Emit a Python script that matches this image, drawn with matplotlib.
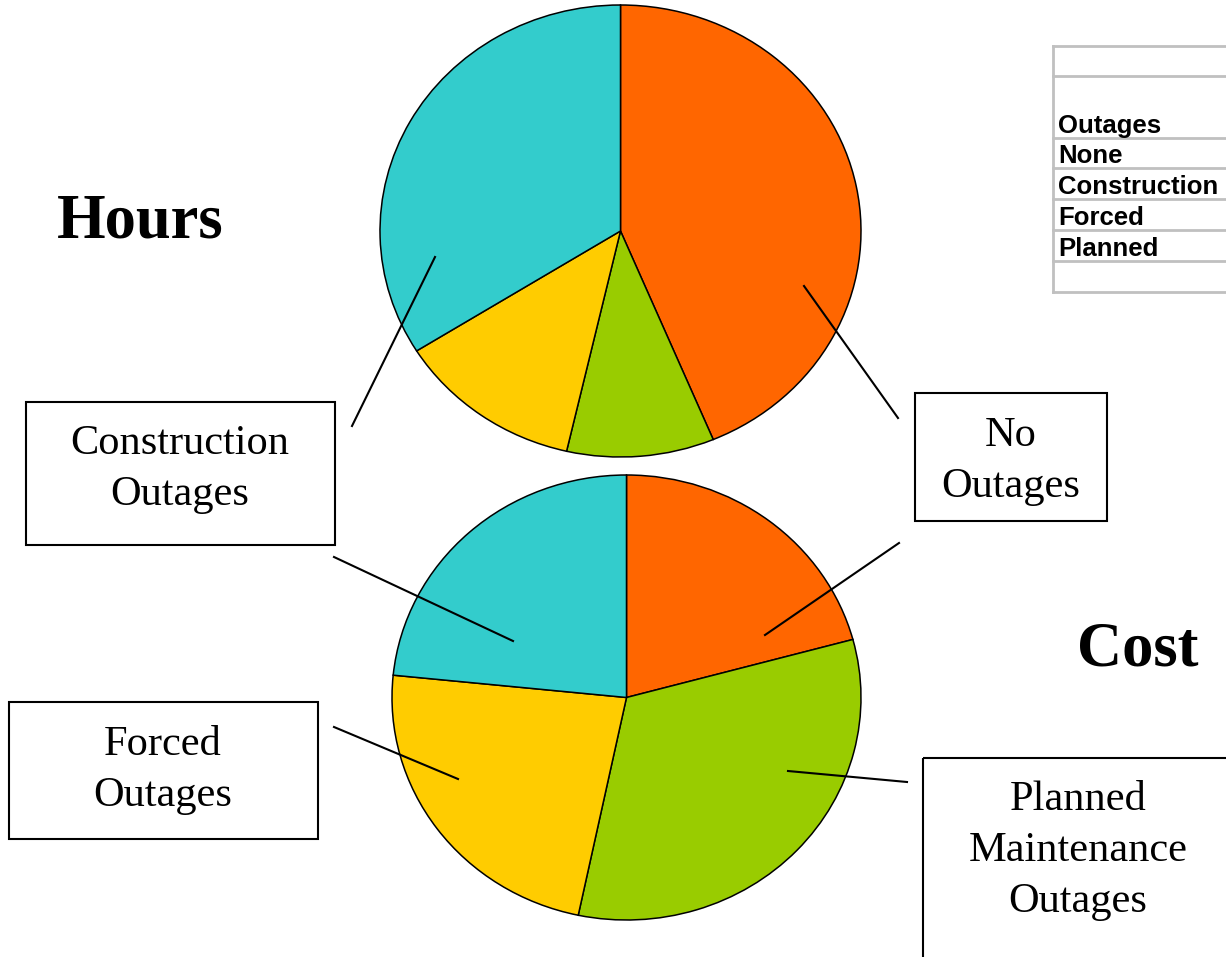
import matplotlib
matplotlib.use("Agg")
import matplotlib.pyplot as plt
from matplotlib.patches import Rectangle

# data: shares in percent, clockwise from 12 o'clock
categories = ["None", "Planned", "Forced", "Construction"]
hours_share = [43.7, 9.9, 12.5, 33.9]
cost_share = [20.8, 32.5, 23.3, 23.4]
slice_colors = ["#FF6600", "#99CC00", "#FFCC00", "#33CCCC"]
legend_rows = ["", "Outages", "None", "Construction", "Forced", "Planned", ""]

W, H = 1226, 957
fig = plt.figure(figsize=(W / 100, H / 100), dpi=100)


def pie_axes(x0, y0, x1, y1, values):
    # box given in pixels from top-left
    ax = fig.add_axes([x0 / W, 1 - y1 / H, (x1 - x0) / W, (y1 - y0) / H])
    wedges, _ = ax.pie(values, colors=slice_colors, startangle=90, counterclock=False,
                       wedgeprops=dict(edgecolor="black", linewidth=1.1))
    for w in wedges:
        w.set_clip_on(False)
    ax.set_aspect("auto")
    ax.set_xlim(-1, 1)
    ax.set_ylim(-1, 1)
    ax.axis("off")
    return ax


pie_axes(380, 5, 861, 457, hours_share)
pie_axes(392, 475, 861, 920, cost_share)

# overlay in pixel coordinates for labels, boxes and leader lines
ov = fig.add_axes([0, 0, 1, 1])
ov.set_xlim(0, W)
ov.set_ylim(H, 0)
ov.axis("off")

serif = "Liberation Serif"
ov.text(140, 222, "Hours", fontsize=45, fontweight="bold", family=serif, ha="center", va="center")
ov.text(1138, 650, "Cost", fontsize=45, fontweight="bold", family=serif, ha="center", va="center")

boxes = [
    (26, 402, 335, 545, "Construction\nOutages", 180, 469),
    (915, 393, 1107, 521, "No\nOutages", 1011, 461),
    (9, 702, 318, 839, "Forced\nOutages", 163, 770),
    (923, 758, 1240, 980, "Planned\nMaintenance\nOutages", 1078, 851),
]
for x0, y0, x1, y1, label, tx, ty in boxes:
    ov.add_patch(Rectangle((x0, y0), x1 - x0, y1 - y0, fill=False, edgecolor="black", linewidth=1.5))
    ov.text(tx, ty, label, fontsize=30.5, family=serif, ha="center", va="center", linespacing=1.43)

leaders = [
    ((352, 426), (435, 257)),
    ((334, 557), (513, 641)),
    ((804, 286), (898, 418)),
    ((765, 635), (899, 543)),
    ((334, 727), (458, 779)),
    ((788, 771), (907, 782)),
]
for (xa, ya), (xb, yb) in leaders:
    ov.plot([xa, xb], [ya, yb], color="black", linewidth=1.5)

# legend table at the top right
row_lines = [46, 76, 138, 168, 199, 230, 261, 292]
grid = "#C0C0C0"
ov.plot([1053, 1053], [row_lines[0], row_lines[-1]], color=grid, linewidth=2)
for y in row_lines:
    ov.plot([1053, W], [y, y], color=grid, linewidth=2)
for i, label in enumerate(legend_rows):
    if label:
        ov.text(1058, row_lines[i + 1] - 5, label, fontsize=18.5, fontweight="bold",
                family="Liberation Sans", ha="left", va="baseline")

fig.savefig("out.png", dpi=100)
